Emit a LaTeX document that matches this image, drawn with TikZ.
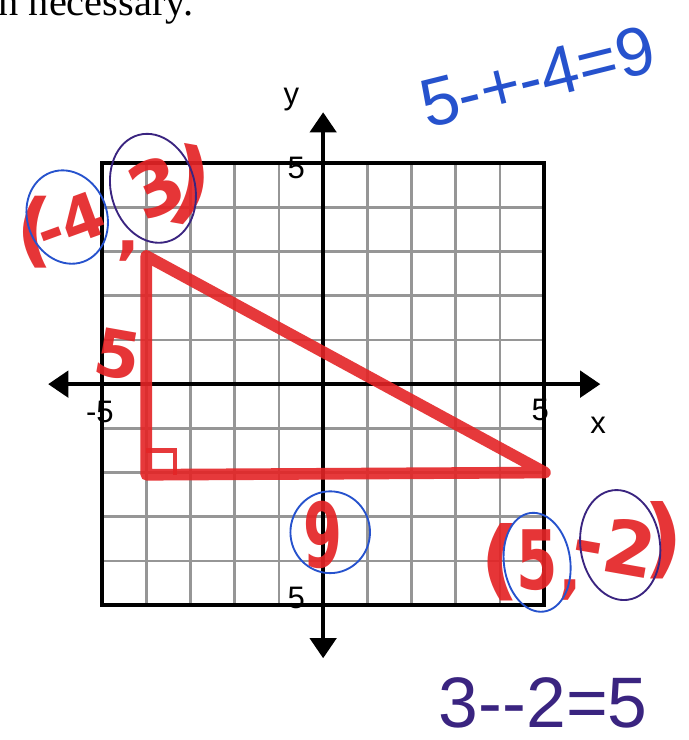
\documentclass[tikz,border=0pt]{standalone}
\usepackage{fontspec}
\setmainfont{Liberation Sans}
\newfontfamily\headfont{Liberation Serif}
\newfontfamily\penfont{DejaVu Sans}
\usetikzlibrary{arrows.meta,shapes.geometric}
\definecolor{redpen}{RGB}{228,36,38}
\definecolor{bluepen}{RGB}{38,82,205}
\definecolor{navypen}{RGB}{58,36,128}
\definecolor{gridgray}{RGB}{150,150,150}
\newcommand\fsz[1]{\fontsize{#1}{#1}\selectfont}

\begin{document}
\begin{tikzpicture}
   \tikzstyle{grd}=[gridgray,line width=1.8pt]
   \tikzstyle{box}=[black,line width=2.4pt]
   \tikzstyle{ax}=[black,line width=2.4pt,{Triangle[length=13pt,width=17pt]}-{Triangle[length=13pt,width=17pt]}]
   \tikzstyle{lbl}=[inner sep=0pt,font=\fsz{20}]
   \tikzstyle{tri}=[redpen,line width=7.5pt,line join=round,line cap=round,opacity=.9]
   \tikzstyle{ink}=[redpen,inner sep=0pt,font=\penfont\bfseries,opacity=.92]
   \tikzstyle{ring}=[draw=bluepen,line width=1.2pt,ellipse,inner sep=0pt]
   \tikzstyle{dring}=[ring,draw=navypen]

   \useasboundingbox[fill=white] (-7.31,-8.05) rectangle (8.26,8.69);

   % header text, cut at the left edge
   \node (hdr) [anchor=base east,inner sep=0pt,font=\headfont\fsz{26}] at (-2.93,8.35) {when necessary.};

   % grid and axes
   \draw[grd] (-5,-5) grid (5,5);
   \draw[box] (-5,-5) rectangle (5,5);
   \coordinate (xl) at (-6.22,0);
   \coordinate (xr) at (6.27,0);
   \coordinate (yb) at (0,-6.2);
   \coordinate (yt) at (0,6.15);
   \draw[ax] (xl) -- (xr);
   \draw[ax] (yb) -- (yt);
   \node (ylab) [lbl] at (-0.72,6.43) {y};
   \node (xlab) [lbl] at (6.22,-0.93) {x};
   \node (ytop) [lbl] at (-0.61,4.89) {5};
   \node (ybot) [lbl] at (-0.61,-4.84) {5};
   \node (xneg) [lbl] at (-5.05,-0.63) {-5};
   \node (xpos) [lbl] at (4.91,-0.59) {5};

   % triangle
   \coordinate (A) at (-4,2.9);
   \coordinate (B) at (-4,-2.05);
   \coordinate (C) at (5.02,-2.0);
   \draw[tri] (A) -- (B) -- (C) -- cycle;
   \draw[redpen,line width=3pt,opacity=.9] (-4,-1.5) -- (-3.35,-1.5) -- (-3.35,-2.05);

   % red marks
   \node (lpa) [ink] at (-6.52,3.44) {\fsz{52}(};
   \node (m4) [ink,rotate=20] at (-5.72,3.67) {\fsz{40}-4};
   \node (ca) [ink] at (-4.41,3.0) {\fsz{40},};
   \node (p3) [ink,rotate=25] at (-3.78,4.45) {\fsz{48}3};
   \node (rpa) [ink,rotate=-10] at (-3.0,4.5) {\fsz{58})};
   \node (leg) [ink,rotate=-10] at (-4.64,0.66) {\fsz{42}5};
   \node (nine) [ink,xscale=.75,yscale=1.2] at (0,-3.42) {\fsz{48}9};
   \node (lpb) [ink] at (4.0,-4.03) {\fsz{56}(};
   \node (p5) [ink,xscale=.8,yscale=1.1] at (4.84,-3.98) {\fsz{48}5};
   \node (cb) [ink] at (5.59,-4.65) {\fsz{40},};
   \node (m2) [ink,rotate=-10] at (6.6,-3.64) {\fsz{48}-2};
   \node (rpb) [ink] at (7.69,-3.53) {\fsz{56})};

   % circles
   \node (c4) [ring,minimum width=1.8cm,minimum height=2.15cm,rotate=20] at (-5.79,3.78) {};
   \node (c3) [dring,minimum width=1.9cm,minimum height=2.5cm,rotate=15] at (-3.85,4.43) {};
   \node (c9) [ring,minimum width=1.8cm,minimum height=1.85cm] at (0.16,-3.35) {};
   \node (c5) [ring,minimum width=1.5cm,minimum height=2.25cm,rotate=8] at (4.84,-4.03) {};
   \node (c2) [dring,minimum width=1.8cm,minimum height=2.5cm,rotate=8] at (6.72,-3.64) {};

   % worked sums
   \node (sumx) [bluepen,rotate=14,font=\fsz{44}] at (4.85,6.95) {5-+-4=9};
   \node (sumy) [navypen,font=\fsz{46}] at (4.98,-7.2) {3-{}-2=5};
\end{tikzpicture}
\end{document}
